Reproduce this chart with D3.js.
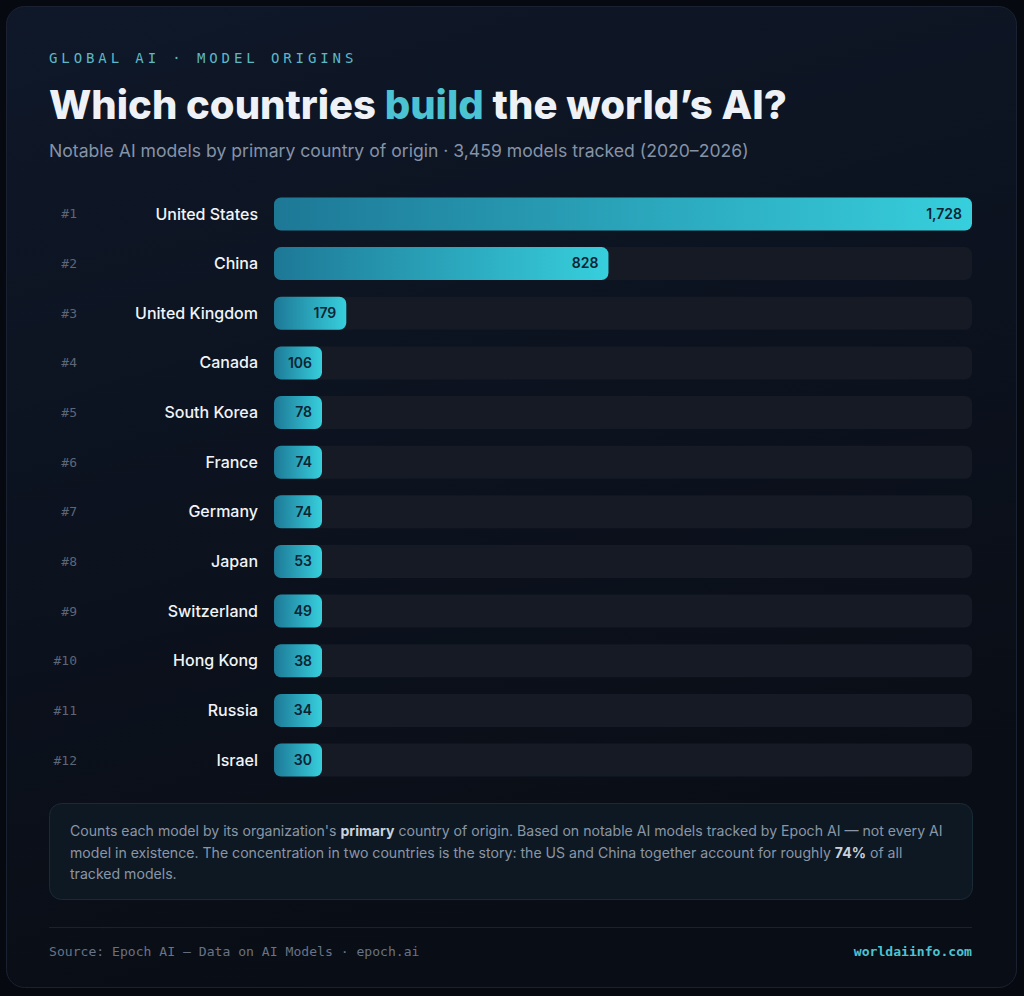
<!DOCTYPE html>
<html>
<head>
<meta charset="utf-8">
<script src="https://cdn.jsdelivr.net/npm/d3@7"></script>
<style>
  html, body { margin: 0; padding: 0; background: #06090f; }
  svg { display: block; }
</style>
</head>
<body>
<svg id="chart"></svg>
<script>
var width = 1024;
var height = 996;

// data
var countries = ["United States", "China", "United Kingdom", "Canada", "South Korea", "France",
                 "Germany", "Japan", "Switzerland", "Hong Kong", "Russia", "Israel"];
var models = [1728, 828, 179, 106, 78, 74, 74, 53, 49, 38, 34, 30];
var ranks = ["#1", "#2", "#3", "#4", "#5", "#6", "#7", "#8", "#9", "#10", "#11", "#12"];
var noteLines = [
  [["Counts each model by its organization's ", false], ["primary", true], [" country of origin. Based on notable AI models tracked by Epoch AI \u2014 not every AI", false]],
  [["model in existence. The concentration in two countries is the story: the US and China together account for roughly ", false], ["74%", true], [" of all", false]],
  [["tracked models.", false]]
];

var sans = "Inter, 'Noto Sans', sans-serif";
var mono = "'DejaVu Sans Mono', 'Liberation Mono', monospace";

var svg = d3.select('#chart')
    .attr('width', width)
    .attr('height', height);

var defs = svg.append('defs');

var cardGrad = defs.append('linearGradient')
    .attr('id', 'card-grad')
    .attr('x1', 0).attr('y1', 0).attr('x2', 0.3).attr('y2', 1);
cardGrad.append('stop').attr('offset', '0%').attr('stop-color', '#0f1829');
cardGrad.append('stop').attr('offset', '100%').attr('stop-color', '#090d15');

var barGrad = defs.append('linearGradient')
    .attr('id', 'bar-grad')
    .attr('x1', 0).attr('y1', 0).attr('x2', 1).attr('y2', 0);
barGrad.append('stop').attr('offset', '0%').attr('stop-color', '#1d7896');
barGrad.append('stop').attr('offset', '100%').attr('stop-color', '#37cfdd');

// card
svg.append('rect')
    .attr('x', 6.5).attr('y', 6.5)
    .attr('width', 1010).attr('height', 981)
    .attr('rx', 18)
    .attr('fill', 'url(#card-grad)')
    .attr('stroke', '#1a2231');

// header
svg.append('text')
    .attr('x', 49).attr('y', 63)
    .attr('fill', '#5cb8c6')
    .style('font-family', mono)
    .style('font-size', '14px')
    .style('letter-spacing', '3.9px')
    .text('GLOBAL AI \u00b7 MODEL ORIGINS');

var title = svg.append('text')
    .attr('x', 49).attr('y', 119)
    .attr('fill', '#eef2f7')
    .style('font-family', sans)
    .style('font-size', '40px')
    .style('font-weight', 800);
title.append('tspan').text('Which countries ');
title.append('tspan').attr('fill', '#4cc3d3').text('build');
title.append('tspan').text(' the world\u2019s AI?');

svg.append('text')
    .attr('x', 49).attr('y', 157)
    .attr('fill', '#8593a8')
    .style('font-family', sans)
    .style('font-size', '17.6px')
    .text('Notable AI models by primary country of origin \u00b7 3,459 models tracked (2020\u20132026)');

// scales
var x = d3.scaleLinear()
    .domain([0, d3.max(models)])
    .range([0, 698]);

var y = d3.scaleBand()
    .domain(countries)
    .range([189, 785])
    .paddingInner(0.335)
    .paddingOuter(0.17);

var barLeft = 274;
var minW = 48;

var rows = svg.selectAll('g.row')
    .data(countries)
    .enter()
    .append('g')
    .attr('class', 'row')
    .attr('transform', function(d) { return 'translate(0,' + y(d) + ')'; });

rows.append('rect')
    .attr('x', barLeft)
    .attr('width', x.range()[1])
    .attr('height', y.bandwidth())
    .attr('rx', 7)
    .attr('fill', '#151a25');

rows.append('rect')
    .attr('x', barLeft)
    .attr('width', function(d, i) { return Math.max(minW, x(models[i])); })
    .attr('height', y.bandwidth())
    .attr('rx', 7)
    .attr('fill', 'url(#bar-grad)');

rows.append('text')
    .attr('x', function(d, i) { return barLeft + Math.max(minW, x(models[i])) - 10; })
    .attr('y', y.bandwidth() / 2)
    .attr('dy', '0.35em')
    .attr('text-anchor', 'end')
    .attr('fill', '#0c2433')
    .style('font-family', sans)
    .style('font-size', '14px')
    .style('font-weight', 600)
    .text(function(d, i) { return d3.format(',')(models[i]); });

rows.append('text')
    .attr('x', 258)
    .attr('y', y.bandwidth() / 2)
    .attr('dy', '0.35em')
    .attr('text-anchor', 'end')
    .attr('fill', '#f1f4f8')
    .style('font-family', sans)
    .style('font-size', '16px')
    .style('font-weight', 500)
    .text(function(d) { return d; });

rows.append('text')
    .attr('x', 77)
    .attr('y', y.bandwidth() / 2)
    .attr('dy', '0.35em')
    .attr('text-anchor', 'end')
    .attr('fill', '#5d6677')
    .style('font-family', mono)
    .style('font-size', '13px')
    .text(function(d, i) { return ranks[i]; });

// note box
svg.append('rect')
    .attr('x', 49.5).attr('y', 803.5)
    .attr('width', 923).attr('height', 96)
    .attr('rx', 12)
    .attr('fill', '#0d1823')
    .attr('stroke', '#1b2a37');

var note = svg.append('text')
    .style('font-family', sans)
    .style('font-size', '14.1px')
    .attr('fill', '#8a96a6');

noteLines.forEach(function(line, li) {
    line.forEach(function(part, pi) {
        var t = note.append('tspan')
            .text(part[0])
            .attr('fill', part[1] ? '#c9d1db' : null)
            .style('font-weight', part[1] ? 700 : null);
        if (pi === 0) t.attr('x', 70).attr('y', 836 + li * 21.5);
    });
});

// footer
svg.append('line')
    .attr('x1', 49).attr('x2', 972)
    .attr('y1', 927.5).attr('y2', 927.5)
    .attr('stroke', '#182230');

svg.append('text')
    .attr('x', 49).attr('y', 956)
    .attr('fill', '#687385')
    .style('font-family', mono)
    .style('font-size', '13.1px')
    .text('Source: Epoch AI \u2014 Data on AI Models \u00b7 epoch.ai');

svg.append('text')
    .attr('x', 972).attr('y', 956)
    .attr('text-anchor', 'end')
    .attr('fill', '#4cc3d3')
    .style('font-family', mono)
    .style('font-size', '13.1px')
    .style('font-weight', 700)
    .text('worldaiinfo.com');
</script>
</body>
</html>
